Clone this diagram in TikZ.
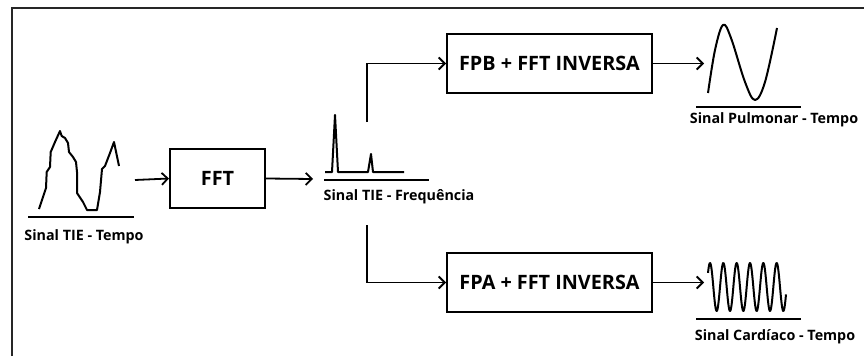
\documentclass[tikz,border=0pt]{standalone}
\usepackage{fontspec}
\setmainfont{Open Sans}
\usetikzlibrary{arrows.meta}

\tikzset{
	bloco/.style={draw,line width=2pt,minimum height=59pt,inner sep=0pt,font=\fontsize{19.8}{22}\selectfont\bfseries},
	rotulo/.style={inner sep=0pt,font=\fontsize{14.3}{16}\selectfont\bfseries},
	seta/.style={line width=1.8pt,-{Straight Barb[length=6pt,width=12pt,line width=1.8pt]}},
	sinal/.style={line width=2pt,line join=round},
	eixo/.style={line width=2pt}
}

\begin{document}
\begin{tikzpicture}[x=1pt,y=-1pt]
		\useasboundingbox (0,0) rectangle (864,356);
		
		% moldura
		\draw[line width=2.2pt,black!85] (12,356) -- (12,8) -- (864,8);
		
		% sinal TIE no tempo
		\draw[sinal] (39,209) -- (46,188) -- (46.7,172) -- (50,167) -- (50.7,152) -- (55,142) -- (60,131) -- (61.7,136) -- (65,138) -- (68,143) -- (69,152) -- (73,157) -- (76,162) -- (77,172) -- (77,193) -- (83,202) -- (87,210) -- (97,210) -- (100,192) -- (102,169) -- (105,166) -- (110,153) -- (114,142) -- (119,166);
		\draw[eixo] (28,217) -- (134,217);
		\node[rotulo] (tempo) at (84,237) {Sinal TIE - Tempo};
		\coordinate (tie) at (135,180);
		
		\node[bloco,minimum width=95pt] (fft) at (217.5,178.5) {FFT};
		\draw[seta] (tie) -- (fft.west);
		
		% espectro
		\draw[sinal] (325,172) -- (332,172) -- (335,115) -- (338,172) -- (368,172) -- (371,154) -- (373,172) -- (404,172);
		\draw[eixo] (324,180) -- (429,180);
		\node[rotulo] (freq) at (399,197) {Sinal TIE - Frequência};
		\coordinate (espectro) at (313,179);
		\draw[seta] (fft.east) -- (espectro);
		
		\node[bloco,minimum width=205pt] (fpb) at (549.5,63.5) {FPB + FFT INVERSA};
		\node[bloco,minimum width=205pt] (fpa) at (549.5,282.5) {FPA + FFT INVERSA};
		
		\coordinate (ramo1) at (367,122);
		\coordinate (ramo2) at (367,225);
		\draw[seta] (ramo1) |- (fpb.west);
		\draw[seta] (ramo2) |- (fpa.west);
		
		% sinal pulmonar
		\coordinate (pulm) at (704,63.5);
		\draw[seta] (fpb.east) -- (pulm);
		\draw[sinal] plot[smooth,tension=0.6] coordinates {(708,93) (715,50) (723,25) (731,38) (745,82) (755,100) (765,82) (777,28)};
		\draw[eixo] (696,107) -- (801,107);
		\node[rotulo] (pulmonar) at (774,120) {Sinal Pulmonar - Tempo};
		
		% sinal cardiaco
		\coordinate (card) at (704,282.5);
		\draw[seta] (fpa.east) -- (card);
		\draw[sinal] plot[domain=-2:76,samples=240] ({710+\x},{287-24*cos(27*\x)});
		\draw[eixo] (696,319) -- (801,319);
		\node[rotulo] (cardiaco) at (775,337) {Sinal Cardíaco - Tempo};
	\end{tikzpicture}
\end{document}
